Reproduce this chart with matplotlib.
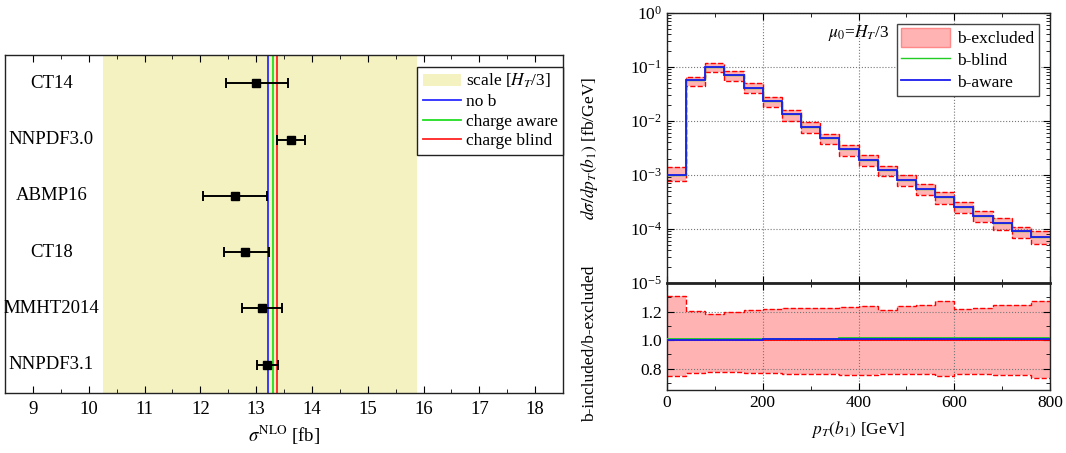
"""
Cross-section comparison (PDF sets) and b-jet pT distribution with ratio panel.
"""

import matplotlib

matplotlib.use("Agg")
import matplotlib.pyplot as plt
import numpy as np
from matplotlib.lines import Line2D
from matplotlib.patches import Patch
from matplotlib.ticker import FixedLocator, LogLocator, MultipleLocator, NullFormatter

plt.rcParams["font.family"] = ["Liberation Serif", "DejaVu Serif"]
plt.rcParams["mathtext.fontset"] = "stix"
plt.rcParams["font.size"] = 12

# ---- left panel: sigma^NLO for PDF sets ----
pdf_sets = ["CT14", "NNPDF3.0", "ABMP16", "CT18", "MMHT2014", "NNPDF3.1"]
sigma_central = [12.99, 13.63, 12.63, 12.80, 13.10, 13.20]
sigma_low = [12.46, 13.37, 12.05, 12.42, 12.74, 13.02]
sigma_high = [13.57, 13.88, 13.19, 13.23, 13.47, 13.39]
scale_band = [10.25, 15.88]
ref_lines = {"no b": 13.22, "charge aware": 13.30, "charge blind": 13.37}
ref_colors = {"no b": "#2b2bff", "charge aware": "#22dd22", "charge blind": "#ff2222"}

# ---- right panel: d sigma / d pT(b1) ----
pt_edges = np.arange(0, 801, 40)
xs_central = [1.0e-3, 5.7e-2, 1.0e-1, 7.1e-2, 4.1e-2, 2.32e-2, 1.32e-2, 7.8e-3, 4.75e-3, 2.98e-3,
              1.89e-3, 1.22e-3, 8.1e-4, 5.4e-4, 3.9e-4, 2.6e-4, 1.75e-4, 1.28e-4, 9.0e-5, 7.0e-5]
xs_upper = [1.38e-3, 6.4e-2, 1.19e-1, 8.3e-2, 5.0e-2, 2.79e-2, 1.58e-2, 9.4e-3, 5.7e-3, 3.58e-3,
            2.34e-3, 1.47e-3, 1.0e-3, 6.7e-4, 4.9e-4, 3.1e-4, 2.16e-4, 1.58e-4, 1.1e-4, 9.0e-5]
xs_lower = [7.8e-4, 4.4e-2, 8.0e-2, 5.6e-2, 3.3e-2, 1.8e-2, 1.02e-2, 5.96e-3, 3.68e-3, 2.21e-3,
            1.49e-3, 9.4e-4, 6.3e-4, 4.2e-4, 2.9e-4, 1.96e-4, 1.35e-4, 9.7e-5, 6.7e-5, 5.25e-5]

ratio_upper = [1.31, 1.201, 1.18, 1.194, 1.21, 1.217, 1.222, 1.222, 1.224, 1.229,
               1.238, 1.21, 1.238, 1.245, 1.273, 1.217, 1.222, 1.245, 1.245, 1.273]
ratio_lower = [0.748, 0.771, 0.778, 0.776, 0.766, 0.766, 0.764, 0.764, 0.76, 0.757,
               0.757, 0.76, 0.76, 0.76, 0.748, 0.76, 0.764, 0.757, 0.757, 0.734]
ratio_blind = [1.006, 1.007, 1.008, 1.008, 1.009, 1.010, 1.010, 1.011, 1.011, 1.012,
               1.012, 1.013, 1.013, 1.014, 1.015, 1.015, 1.016, 1.016, 1.017, 1.018]
ratio_aware = [1.002, 1.003, 1.003, 1.004, 1.004, 1.005, 1.005, 1.006, 1.006, 1.007,
               1.007, 1.007, 1.008, 1.008, 1.008, 1.009, 1.009, 1.010, 1.010, 1.010]

BAND_FILL = "#ffb3b3"
GRID = dict(color="#777777", linestyle=":", linewidth=0.8)


def style_ticks(ax):
    ax.tick_params(which="both", direction="in", top=True, right=True)
    ax.tick_params(which="major", length=5)
    ax.tick_params(which="minor", length=3)
    for sp in ax.spines.values():
        sp.set_linewidth(1.0)
        sp.set_color("#222222")


fig = plt.figure(figsize=(10.66, 4.53), dpi=100)

# left panel
ax = fig.add_axes([0.0047, 0.1325, 0.5235, 0.746])
ypos = np.arange(1, len(pdf_sets) + 1)
ax.axvspan(scale_band[0], scale_band[1], color="#f4f2c0", lw=0, zorder=0)
for name, val in ref_lines.items():
    ax.axvline(val, color=ref_colors[name], lw=1.3, zorder=2)
c = np.array(sigma_central)
err = [c - np.array(sigma_low), np.array(sigma_high) - c]
ax.errorbar(c, ypos, xerr=err, fmt="s", color="black", ms=6, lw=1.4, capsize=3.5, capthick=1.4, zorder=3)
for y, name in zip(ypos, pdf_sets):
    ax.text(9.33, y, name, ha="center", va="center", fontsize=13.5)
ax.set_xlim(8.5, 18.5)
ax.set_ylim(6.5, 0.5)
ax.xaxis.set_major_locator(MultipleLocator(1))
ax.xaxis.set_minor_locator(MultipleLocator(0.5))
ax.set_yticks([])
style_ticks(ax)
ax.tick_params(axis="x", labelsize=13.5, pad=6)
ax.set_xlabel(r"$\sigma^{\rm NLO}$ [fb]", fontsize=13.5, labelpad=4)
handles = [Patch(facecolor="#f4f2c0", edgecolor="none", label=r"scale [$H_T$/3]")]
handles += [Line2D([], [], color=ref_colors[n], lw=1.3, label=n) for n in ref_lines]
leg = ax.legend(handles=handles, loc="upper right", bbox_to_anchor=(1.0, 0.965), fontsize=12.5,
                frameon=True, fancybox=False, edgecolor="#222222", framealpha=1,
                handlelength=2.2, handletextpad=0.3, borderpad=0.3, labelspacing=0.2,
                borderaxespad=0)
leg.get_frame().set_linewidth(1.0)

# right top panel
ax1 = fig.add_axes([0.6257, 0.3753, 0.3593, 0.596])
ax1.stairs(xs_upper, pt_edges, baseline=xs_lower, fill=True, color=BAND_FILL, lw=0, zorder=1)
ax1.stairs(xs_upper, pt_edges, baseline=None, color="red", ls="--", lw=1.0, zorder=2)
ax1.stairs(xs_lower, pt_edges, baseline=None, color="red", ls="--", lw=1.0, zorder=2)
ax1.stairs(xs_central, pt_edges, baseline=None, color="#22cc22", lw=1.0, zorder=3)
ax1.stairs(xs_central, pt_edges, baseline=None, color="#1a1aee", lw=1.3, zorder=4)
ax1.set_yscale("log")
ax1.set_xlim(0, 800)
ax1.set_ylim(1e-5, 1)
ax1.xaxis.set_major_locator(MultipleLocator(200))
ax1.xaxis.set_minor_locator(MultipleLocator(100))
ax1.yaxis.set_major_locator(LogLocator(base=10, numticks=10))
ax1.yaxis.set_minor_locator(LogLocator(base=10, subs=np.arange(2, 10), numticks=10))
ax1.yaxis.set_minor_formatter(NullFormatter())
ax1.tick_params(axis="x", labelbottom=False)
ax1.grid(True, which="major", **GRID)
style_ticks(ax1)
ax1.tick_params(axis="y", labelsize=12.5)
ax1.set_ylabel(r"$d\sigma/dp_T(b_1)$ [fb/GeV]", fontsize=12.5)
ax1.yaxis.set_label_coords(-0.175, 0.5)
ax1.text(400, 0.42, r"$\mu_0$=$H_T$/3", ha="center", va="center", fontsize=12.5)
h2 = [Patch(facecolor=BAND_FILL, edgecolor="#ff8888", label="b-excluded"),
      Line2D([], [], color="#22cc22", lw=1.0, label="b-blind"),
      Line2D([], [], color="#1a1aee", lw=1.3, label="b-aware")]
leg2 = ax1.legend(handles=h2, loc="upper right", bbox_to_anchor=(0.97, 0.96), fontsize=12.5,
                  frameon=True, fancybox=False, edgecolor="#444444", framealpha=1,
                  handlelength=2.8, handleheight=1.3, handletextpad=0.4, borderpad=0.25,
                  labelspacing=0.15, borderaxespad=0)
leg2.get_frame().set_linewidth(1.0)

# right ratio panel
ax2 = fig.add_axes([0.6257, 0.139, 0.3593, 0.2362])
ax2.stairs(ratio_upper, pt_edges, baseline=ratio_lower, fill=True, color=BAND_FILL, lw=0, zorder=1)
ax2.stairs(ratio_upper, pt_edges, baseline=None, color="red", ls="--", lw=1.0, zorder=2)
ax2.stairs(ratio_lower, pt_edges, baseline=None, color="red", ls="--", lw=1.0, zorder=2)
ax2.axhline(1.0, color="red", lw=1.3, zorder=3)
ax2.stairs(ratio_blind, pt_edges, baseline=None, color="#22cc22", lw=1.3, zorder=4)
ax2.stairs(ratio_aware, pt_edges, baseline=None, color="#1a1aee", lw=1.3, zorder=5)
ax2.set_xlim(0, 800)
ax2.set_ylim(0.65, 1.4)
ax2.xaxis.set_major_locator(MultipleLocator(200))
ax2.xaxis.set_minor_locator(MultipleLocator(100))
ax2.yaxis.set_major_locator(FixedLocator([0.8, 1.0, 1.2]))
ax2.yaxis.set_minor_locator(FixedLocator([0.7, 0.9, 1.1, 1.3]))
ax2.yaxis.set_major_formatter(matplotlib.ticker.FormatStrFormatter("%.1f"))
ax2.grid(True, which="major", **GRID)
style_ticks(ax2)
ax2.spines["top"].set_linewidth(2.0)
ax2.tick_params(labelsize=12.5)
ax2.set_xlabel(r"$p_T(b_1)$ [GeV]", fontsize=12.5, labelpad=6)
ax2.set_ylabel("b-included/b-excluded", fontsize=12.5)
ax2.yaxis.set_label_coords(-0.18, 0.43)

fig.savefig("out.png", dpi=100)
